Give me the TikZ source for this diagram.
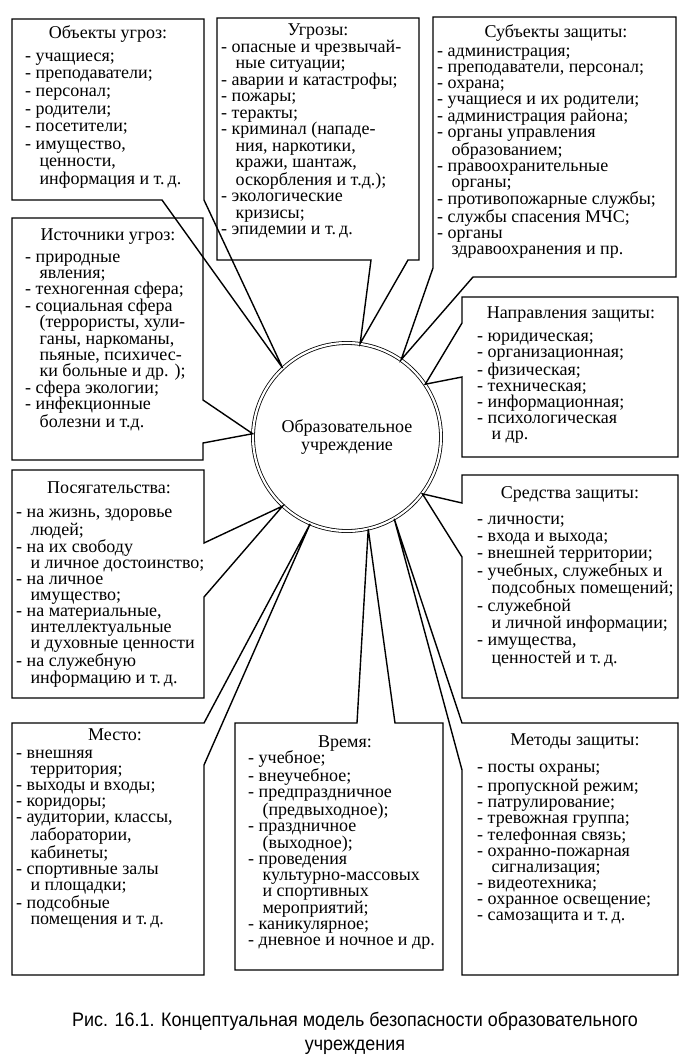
\documentclass[tikz,border=0pt]{standalone}
\usepackage{fontspec}
\setmainfont{Liberation Serif}
\newfontfamily\capfont[FakeStretch=0.92]{Liberation Sans}
\newcommand{\listfont}{\fontsize{18}{16}\selectfont}
\newcommand{\hng}{\hspace*{0.8em}}

\begin{document}
\begin{tikzpicture}[x=1pt, y=-1pt,
    bubble/.style={draw, line width=1.4pt, line join=miter},
    head/.style={anchor=base, inner sep=0pt, font=\listfont},
    items/.style={anchor=north west, align=left, inner sep=0pt, font=\fontsize{18}{#1}\selectfont},
    inst/.style={circle, draw, double, double distance=2.2pt, line width=0.8pt, minimum size=188pt, align=center, font=\fontsize{18}{18}\selectfont}]
  \useasboundingbox (0,0) rectangle (692,1061);
  \node[inst] (inst) at (347,437) {Образовательное\\учреждение};

  \draw[bubble] (12,19) -- (204,19) -- (204,200) -- (inst.133) -- (162,200) -- (12,200) -- cycle;
  \draw[bubble] (217,18) -- (419,18) -- (419,260) -- (408,260) -- (inst.82) -- (371,260) -- (217,260) -- cycle;
  \draw[bubble] (433,17) -- (676,17) -- (676,277) -- (473,277) -- (inst.55) -- (433,268) -- cycle;
  \draw[bubble] (12,218) -- (203,218) -- (203,400) -- (inst.178) -- (203,443) -- (203,460) -- (12,460) -- cycle;
  \draw[bubble] (462,297) -- (678,297) -- (678,457) -- (462,457) -- (462,377) -- (inst.34) -- (462,323) -- cycle;
  \draw[bubble] (12,470) -- (204,470) -- (204,543) -- (inst.227) -- (204,597) -- (204,698) -- (12,698) -- cycle;
  \draw[bubble] (462,475) -- (678,475) -- (678,698) -- (462,698) -- (462,557) -- (inst.-37) -- (462,503) -- cycle;
  \draw[bubble] (12,723) -- (204,723) -- (inst.247) -- (204,765) -- (204,975) -- (12,975) -- cycle;
  \draw[bubble] (235,723) -- (357,723) -- (inst.-77) -- (395,723) -- (443,723) -- (443,970) -- (235,970) -- cycle;
  \draw[bubble] (462,723) -- (inst.-60) -- (462,770) -- (462,975) -- (678,975) -- (678,723) -- cycle;

  \node[head] (objh) at (108,38) {Объекты угроз:};
  \node[items=17.6] (obj) at (25,48.7) {\strut- учащиеся;\\- преподаватели;\\- персонал;\\- родители;\\- посетители;\\- имущество,\\\hng ценности,\\\hng информация и т.\,д.};

  \node[head] (thrh) at (318,35) {Угрозы:};
  \node[items=16.5] (thr) at (221,39.5) {\strut- опасные и чрезвычай-\\\hng ные ситуации;\\- аварии и катастрофы;\\- пожары;\\- теракты;\\- криминал (нападе-\\\hng ния, наркотики,\\\hng кражи, шантаж,\\\hng оскорбления и т.д.);\\- экологические\\\hng кризисы;\\- эпидемии и т.\,д.};

  \node[head] (subh) at (556,37) {Субъекты защиты:};
  \node[items=16] (sub) at (437,44.8) {\strut- администрация;\\- преподаватели, персонал;\\- охрана;\\- учащиеся и их родители;\\- администрация района;\\- органы управления\\\hng образованием;\\- правоохранительные\\\hng органы;\\- противопожарные службы;\\- службы спасения МЧС;\\- органы\\\hng здравоохранения и пр.};

  \node[head] (srch) at (108,240) {Источники угроз:};
  \node[items=16.4] (src) at (25,250.5) {\strut- природные\\\hng явления;\\- техногенная сфера;\\- социальная сфера\\\hng (террористы, хули-\\\hng ганы, наркоманы,\\\hng пьяные, психичес-\\\hng ки больные и др. );\\- сфера экологии;\\- инфекционные\\\hng болезни и т.д.};

  \node[head] (dirh) at (571,318) {Направления защиты:};
  \node[items=16] (dir) at (477,330.5) {\strut- юридическая;\\- организационная;\\- физическая;\\- техническая;\\- информационная;\\- психологическая\\\hng и др.};

  \node[head] (atth) at (109,493) {Посягательства:};
  \node[items=16] (att) at (16,505.8) {\strut- на жизнь, здоровье\\\hng людей;\\- на их свободу\\\hng и личное достоинство;\\- на личное\\\hng имущество;\\- на материальные,\\\hng интеллектуальные\\\hng и духовные ценности\\- на служебную\\\hng информацию и т.\,д.};

  \node[head] (meah) at (570,498) {Средства защиты:};
  \node[items=17.4] (mea) at (477,511.8) {\strut- личности;\\- входа и выхода;\\- внешней территории;\\- учебных, служебных и\\\hng подсобных помещений;\\- служебной\\\hng и личной информации;\\- имущества,\\\hng ценностей и т.\,д.};

  \node[head] (plch) at (115,740) {Место:};
  \node[items=16] (plc) at (16,747.5) {\strut- внешняя\\\hng территория;\\- выходы и входы;\\- коридоры;\\- аудитории, классы,\\\hng лаборатории,\\\hng кабинеты;\\- спортивные залы\\\hng и площадки;\\- подсобные\\\hng помещения и т.\,д.};

  \node[head] (timh) at (345,747) {Время:};
  \node[items=16] (tim) at (248,750) {\strut- учебное;\\- внеучебное;\\- предпраздничное\\\hng (предвыходное);\\- праздничное\\\hng (выходное);\\- проведения\\\hng культурно-массовых\\\hng и спортивных\\\hng мероприятий;\\- каникулярное;\\- дневное и ночное и др.};

  \node[head] (meth) at (575,745) {Методы защиты:};
  \node[items=16] (met) at (477,761.5) {\strut- посты охраны;\\- пропускной режим;\\- патрулирование;\\- тревожная группа;\\- телефонная связь;\\- охранно-пожарная\\\hng сигнализация;\\- видеотехника;\\- охранное освещение;\\- самозащита и т.\,д.};

  \node[align=center, font=\capfont\fontsize{19.5}{24}\selectfont] (cap) at (355,1033) {Рис. 16.1. Концептуальная модель безопасности образовательного\\учреждения};
\end{tikzpicture}
\end{document}
